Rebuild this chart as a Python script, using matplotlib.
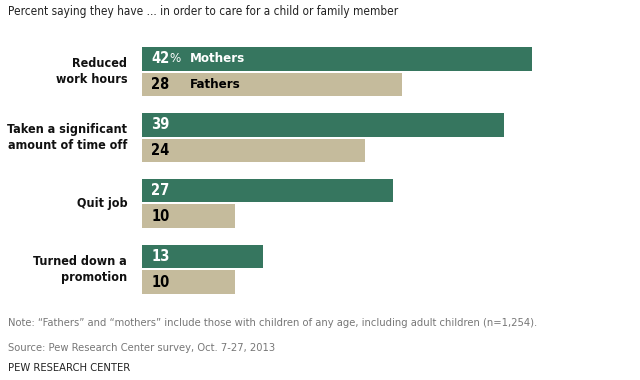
import matplotlib
matplotlib.use("Agg")
import matplotlib.pyplot as plt
import numpy as np

# data
categories = ["Reduced\nwork hours", "Taken a significant\namount of time off", "Quit job", "Turned down a\npromotion"]
mothers = [42, 39, 27, 13]
fathers = [28, 24, 10, 10]

green = "#36765f"
tan = "#c5bb9c"

plt.rcParams["font.family"] = ["DejaVu Sans"]
plt.rcParams["font.stretch"] = "condensed"

fig = plt.figure(figsize=(6.4, 3.8), dpi=100)
ax = fig.add_axes([142/640, 86/380, 390/640, 247/380])

step = 65.5
bh = 23.5 / step
off = 25.5 / step
y = np.arange(len(categories))
ax.barh(y, mothers, height=bh, color=green)
ax.barh(y + off, fathers, height=bh, color=tan)
ax.set_xlim(0, 42)
ax.set_ylim(3 + off + bh/2, -bh/2)
ax.axis("off")

for i in range(len(categories)):
    ax.text(1.0, y[i], str(mothers[i]), color="white", fontsize=10.5, fontweight="bold", va="center", ha="left")
    ax.text(1.0, y[i] + off, str(fathers[i]), color="black", fontsize=10.5, fontweight="bold", va="center", ha="left")
    ax.text(-1.6, y[i] + off/2, categories[i], ha="right", va="center", fontsize=9,
            fontweight="bold", linespacing=1.25, color="#111111")

ax.text(2.95, y[0], "%", color="white", fontsize=9.5, va="center", ha="left")
ax.text(5.2, y[0], "Mothers", color="white", fontsize=9.5, fontweight="bold", va="center", ha="left")
ax.text(5.2, y[0] + off, "Fathers", color="black", fontsize=9.5, fontweight="bold", va="center", ha="left")

fig.text(8/640, 1 - 12/380, "Percent saying they have ... in order to care for a child or family member",
         fontsize=8.5, va="center", ha="left", color="#222222")
fig.text(8/640, 1 - 323/380, "Note: \u201cFathers\u201d and \u201cmothers\u201d include those with children of any age, including adult children (n=1,254).",
         fontsize=8, va="center", ha="left", color="#777777")
fig.text(8/640, 1 - 348/380, "Source: Pew Research Center survey, Oct. 7-27, 2013",
         fontsize=8, va="center", ha="left", color="#777777")
fig.text(8/640, 1 - 368/380, "PEW RESEARCH CENTER",
         fontsize=8, va="center", ha="left", color="#222222")

fig.savefig("out.png", dpi=100)
